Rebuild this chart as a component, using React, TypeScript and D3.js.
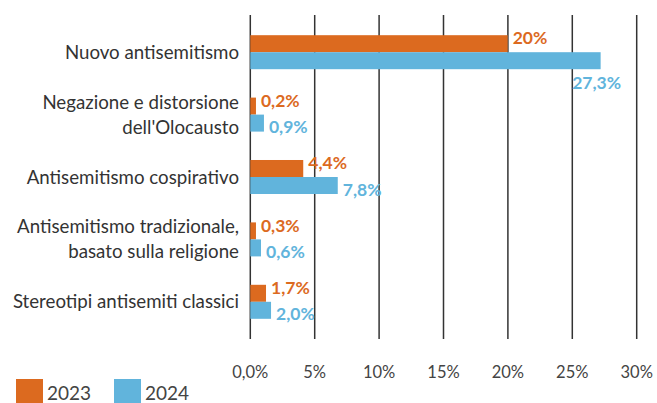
import React, { useRef, useEffect } from 'react';
import * as d3 from 'd3';

// categories (top to bottom), each split into display lines
const categories: string[][] = [
  ['Nuovo antisemitismo'],
  ['Negazione e distorsione', "dell'Olocausto"],
  ['Antisemitismo cospirativo'],
  ['Antisemitismo tradizionale,', 'basato sulla religione'],
  ['Stereotipi antisemiti classici'],
];

const series = ['2023', '2024'];
const colors = ['#dc6a1f', '#61b4dc'];

// bar lengths as drawn in the picture (%)
const values2023 = [19.98, 0.44, 4.11, 0.44, 1.22];
const values2024 = [27.2, 1.06, 6.79, 0.83, 1.61];

// printed labels
const labels2023 = ['20%', '0,2%', '4,4%', '0,3%', '1,7%'];
const labels2024 = ['27,3%', '0,9%', '7,8%', '0,6%', '2,0%'];

const ticks = [0, 5, 10, 15, 20, 25, 30];
const tickLabels = ['0,0%', '5%', '10%', '15%', '20%', '25%', '30%'];

const FONT = 'Lato, "Noto Sans", sans-serif';

const App = () => {
  const svgRef = useRef<SVGSVGElement>(null);
  const width = 657;
  const height = 403;

  useEffect(() => {
    const svg = d3.select(svgRef.current);
    svg.selectAll('*').remove();

    const x = d3.scaleLinear().domain([0, 30]).range([250.3, 636.7]);
    const y = d3
      .scaleBand()
      .domain(categories.map((_, i) => String(i)))
      .range([21, 333])
      .paddingInner(0.455)
      .paddingOuter(0.2275);
    const bh = y.bandwidth() / 2;

    // grid lines
    svg
      .append('g')
      .selectAll('line')
      .data(ticks)
      .enter()
      .append('line')
      .attr('x1', d => x(d))
      .attr('x2', d => x(d))
      .attr('y1', 15)
      .attr('y2', 339)
      .attr('stroke', '#333')
      .attr('stroke-width', 1.5);

    // tick labels
    svg
      .append('g')
      .selectAll('text')
      .data(ticks)
      .enter()
      .append('text')
      .attr('x', d => x(d))
      .attr('y', 378)
      .attr('text-anchor', 'middle')
      .attr('font-family', FONT)
      .attr('font-size', 16.5)
      .attr('fill', '#444')
      .text((d, i) => tickLabels[i]);

    // category labels
    const cat = svg.append('g');
    categories.forEach((lines, i) => {
      const cy = (y(String(i)) as number) + bh;
      const lh = 25;
      lines.forEach((line, j) => {
        cat
          .append('text')
          .attr('x', 239)
          .attr('y', cy + (j - (lines.length - 1) / 2) * lh)
          .attr('dy', '0.35em')
          .attr('text-anchor', 'end')
          .attr('font-family', FONT)
          .attr('font-size', 18.7)
          .attr('fill', '#333')
          .text(line);
      });
    });

    const allValues = [values2023, values2024];
    const allLabels = [labels2023, labels2024];

    allValues.forEach((vals, s) => {
      const g = svg.append('g');
      g.selectAll('rect')
        .data(vals)
        .enter()
        .append('rect')
        .attr('x', x(0))
        .attr('y', (d, i) => (y(String(i)) as number) + s * bh)
        .attr('width', d => x(d) - x(0))
        .attr('height', bh)
        .attr('fill', colors[s]);

      g.selectAll('text')
        .data(vals)
        .enter()
        .append('text')
        .attr('font-family', FONT)
        .attr('font-size', 17.5)
        .attr('font-weight', 'bold')
        .attr('fill', colors[s])
        .attr('dy', '0.35em')
        .each(function (d, i) {
          const t = d3.select(this);
          const top = (y(String(i)) as number) + s * bh;
          const overflow = x(d) + 55 > x(30);
          if (overflow) {
            // label does not fit: centered under the bar end
            t.attr('x', x(d) - 4)
              .attr('y', top + bh + 14)
              .attr('text-anchor', 'middle');
          } else {
            t.attr('x', x(d) + 5)
              .attr('y', top + bh / 2 + (s === 0 ? -5.5 : 4))
              .attr('text-anchor', 'start');
          }
          t.text(allLabels[s][i]);
        });
    });

    // legend
    const legend = svg.append('g');
    series.forEach((name, i) => {
      const lx = 16 + i * 98;
      legend
        .append('rect')
        .attr('x', lx)
        .attr('y', 379)
        .attr('width', 27)
        .attr('height', 26)
        .attr('fill', colors[i]);
      legend
        .append('text')
        .attr('x', lx + 31)
        .attr('y', 399.5)
        .attr('font-family', FONT)
        .attr('font-size', 19)
        .attr('fill', '#444')
        .text(name);
    });
  }, []);

  return (
    <svg
      ref={svgRef}
      width={width}
      height={height}
      style={{ position: 'absolute', left: 0, top: 0, background: '#fff' }}
    />
  );
};

export default App;
